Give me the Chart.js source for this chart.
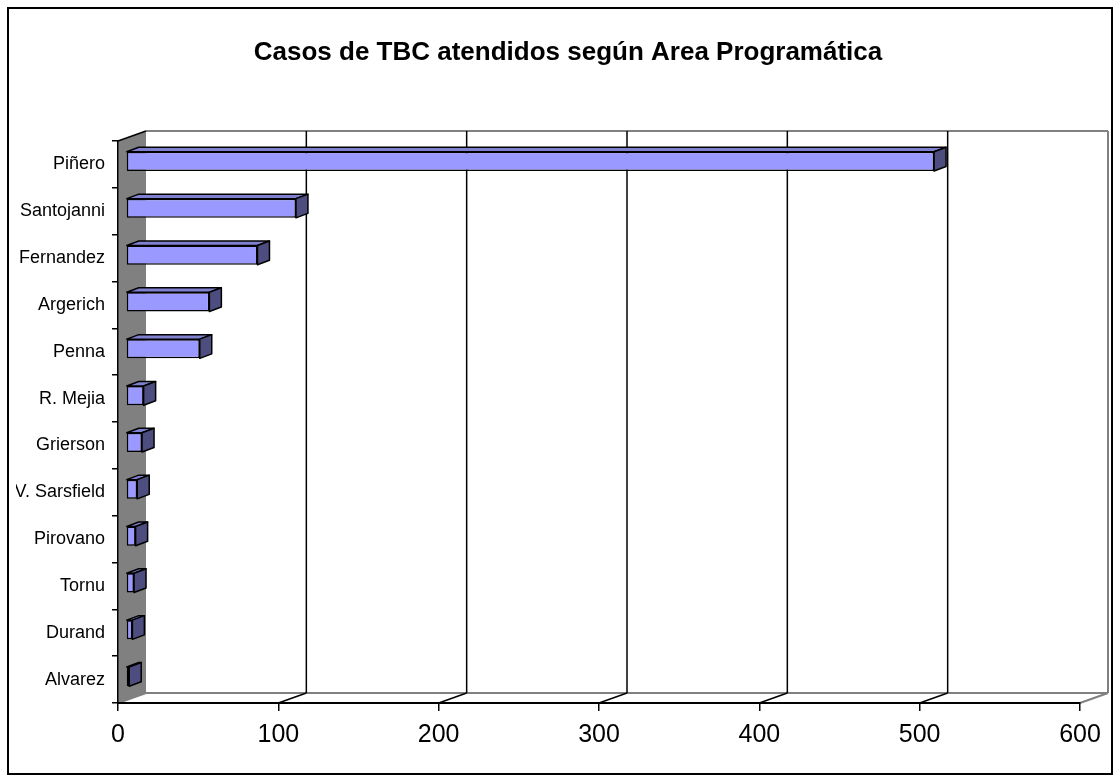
<!DOCTYPE html>
<html>
<head>
<meta charset="utf-8">
<script src="https://cdn.jsdelivr.net/npm/chart.js@4/dist/chart.umd.min.js"></script>
<style>
  body { margin: 0; background: #fff; }
  canvas { display: block; }
</style>
</head>
<body>
<canvas id="barChart" width="1120" height="776"></canvas>
<script>
// datos
const areas = ['Piñero', 'Santojanni', 'Fernandez', 'Argerich', 'Penna', 'R. Mejia',
  'Grierson', 'V. Sarsfield', 'Pirovano', 'Tornu', 'Durand', 'Alvarez'];
const casos = [504, 106, 82, 52, 46, 11, 10, 7, 6, 5, 4, 2];
const escala = [0, 100, 200, 300, 400, 500, 600];

const fuente = '"Liberation Sans", Arial, sans-serif';

// profundidad del "3D"
const depth = { dx: 28, dy: -10 };
const barDepth = { dx: 12, dy: -4.5 };
const barShift = { dx: 8, dy: -3 };

function line(ctx, x1, y1, x2, y2) {
  ctx.beginPath();
  ctx.moveTo(x1, y1);
  ctx.lineTo(x2, y2);
  ctx.stroke();
}

function poly(ctx, pts) {
  ctx.beginPath();
  ctx.moveTo(pts[0][0], pts[0][1]);
  for (let i = 1; i < pts.length; i++) ctx.lineTo(pts[i][0], pts[i][1]);
  ctx.closePath();
}

const walls = {
  id: 'walls',
  beforeDraw(chart) {
    const { ctx, chartArea: a, scales: { x } } = chart;
    const dx = depth.dx, dy = depth.dy;
    ctx.save();
    // marco exterior
    ctx.strokeStyle = '#000';
    ctx.lineWidth = 2;
    ctx.strokeRect(8, 8, 1104, 766);

    // pared izquierda gris
    ctx.fillStyle = '#808080';
    poly(ctx, [[a.left, a.top], [a.left + dx, a.top + dy], [a.left + dx, a.bottom + dy], [a.left, a.bottom]]);
    ctx.fill();

    ctx.strokeStyle = '#808080';
    ctx.lineWidth = 2;
    line(ctx, a.left + dx, a.top + dy, a.right + dx, a.top + dy);
    line(ctx, a.right + dx, a.top + dy, a.right + dx, a.bottom + dy);
    line(ctx, a.left + dx, a.bottom + dy, a.right + dx, a.bottom + dy);
    line(ctx, a.right, a.bottom, a.right + dx, a.bottom + dy);
    line(ctx, a.left, a.bottom, a.left + dx, a.bottom + dy);

    ctx.strokeStyle = '#000';
    ctx.lineWidth = 1.5;
    x.ticks.forEach(t => {
      if (t.value <= x.min || t.value >= x.max) return;
      const px = x.getPixelForValue(t.value);
      line(ctx, px + dx, a.top + dy, px + dx, a.bottom + dy);
      line(ctx, px, a.bottom, px + dx, a.bottom + dy);
    });
    line(ctx, a.left, a.top, a.left + dx, a.top + dy);
    ctx.restore();
  },
  beforeDatasetsDraw(chart) {
    chart.ctx.save();
    chart.ctx.translate(barShift.dx, barShift.dy);
  },
  afterDatasetsDraw(chart) {
    const ctx = chart.ctx;
    const bdx = barDepth.dx, bdy = barDepth.dy;
    ctx.lineWidth = 1.5;
    ctx.lineJoin = 'round';
    ctx.strokeStyle = '#000';
    chart.getDatasetMeta(0).data.forEach(el => {
      const p = el.getProps(['x', 'y', 'base', 'height'], true);
      const top = p.y - p.height / 2;
      const bot = p.y + p.height / 2;
      ctx.fillStyle = '#8080d0';
      poly(ctx, [[p.base, top], [p.base + bdx, top + bdy], [p.x + bdx, top + bdy], [p.x, top]]);
      ctx.fill();
      ctx.stroke();
      ctx.fillStyle = '#4d4d80';
      poly(ctx, [[p.x, top], [p.x + bdx, top + bdy], [p.x + bdx, bot + bdy], [p.x, bot]]);
      ctx.fill();
      ctx.stroke();
    });
    ctx.restore();
  }
};

new Chart(document.getElementById('barChart'), {
  type: 'bar',
  data: {
    labels: areas,
    datasets: [{
      data: casos,
      backgroundColor: '#9999ff',
      borderColor: '#000',
      borderWidth: 1.5,
      borderSkipped: false,
      barPercentage: 0.41,
      categoryPercentage: 1,
      clip: false
    }]
  },
  options: {
    indexAxis: 'y',
    responsive: false,
    animation: false,
    devicePixelRatio: 1,
    layout: { padding: { left: 16, right: 0, top: 0, bottom: 0 } },
    plugins: {
      legend: { display: false },
      tooltip: { enabled: false },
      title: {
        display: true,
        text: 'Casos de TBC atendidos según Area Programática',
        color: '#000',
        font: { family: fuente, size: 26, weight: 'bold' },
        padding: { top: 37.4, bottom: 72.4 }
      }
    },
    scales: {
      x: {
        min: escala[0],
        max: escala[escala.length - 1],
        ticks: {
          stepSize: 100,
          color: '#000',
          padding: 9,
          font: { family: fuente, size: 25 }
        },
        grid: { drawOnChartArea: false, drawTicks: true, tickLength: 8, color: '#000', lineWidth: 1.5 },
        border: { display: true, color: '#000', width: 2 },
        afterFit(s) { s.height = 73; }
      },
      y: {
        ticks: {
          color: '#000',
          padding: 7,
          font: { family: fuente, size: 18 }
        },
        grid: { drawOnChartArea: false, drawTicks: true, tickLength: 6, color: '#000', lineWidth: 1.5 },
        border: { display: true, color: '#000', width: 1.5 },
        afterFit(s) { s.width = 102; }
      },
      pad: {
        axis: 'y',
        type: 'linear',
        position: 'right',
        display: true,
        grid: { display: false },
        border: { display: false },
        ticks: { display: false },
        afterFit(s) { s.width = 40; }
      }
    }
  },
  plugins: [walls]
});
</script>
</body>
</html>
